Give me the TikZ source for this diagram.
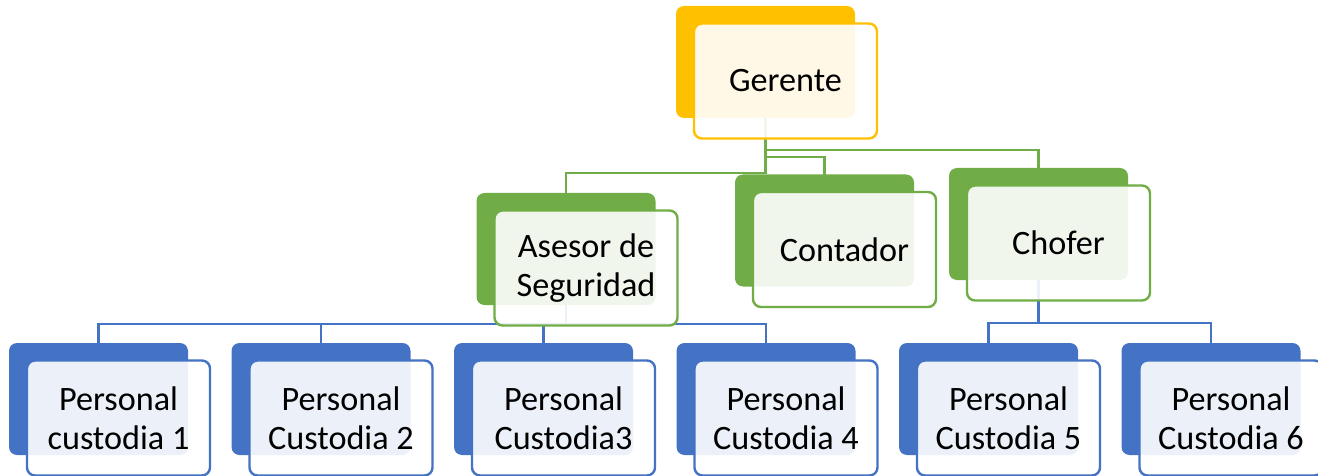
\documentclass[tikz,border=0pt]{standalone}
\usepackage{fontspec}
\setmainfont{Carlito}
\usetikzlibrary{positioning}
\pgfdeclarelayer{fondo}
\pgfsetlayers{fondo,main}
\definecolor{naranja}{HTML}{FFC000}
\definecolor{verde}{HTML}{70AD47}
\definecolor{azul}{HTML}{4472C4}
\tikzset{
  atras/.style={rounded corners=4pt, minimum width=89.5pt, minimum height=56pt, inner sep=0pt, fill=#1},
  frente/.style={rounded corners=4pt, minimum width=91.5pt, minimum height=57.5pt, inner sep=0pt,
    draw=#1, line width=1.2pt, fill=white, fill opacity=0.9, text opacity=1, align=center,
    font=\fontsize{17.1}{19.5}\selectfont},
  linea/.style={draw=#1, line width=1.2pt},
}

\begin{document}
\begin{tikzpicture}[x=0.5pt,y=-0.5pt]
        \useasboundingbox (0,0) rectangle (1318,476);

        % Gerente
        \node[atras=naranja] (ger) at (765.5,62) {};
        \node[frente=naranja] (ger-t) at ([shift={(20,19)}]ger.center) {Gerente};

        % Segundo nivel
        \node[atras=verde] (ase) at (566,249) {};
        \node[frente=verde] (ase-t) at ([shift={(20,19)}]ase.center) {Asesor de\\Seguridad};
        \node[atras=verde] (con) at (824.5,230.5) {};
        \node[frente=verde] (con-t) at ([shift={(20,19)}]con.center) {Contador};
        \node[atras=verde] (cho) at (1038.5,224) {};
        \node[frente=verde] (cho-t) at ([shift={(20,19)}]cho.center) {Chofer};

        % Personal de custodia
        \node[atras=azul] (p1) at (98.5,399) {};
        \node[frente=azul] (p1-t) at ([shift={(20,19)}]p1.center) {Personal\\custodia 1};
        \node[atras=azul] (p2) at (321,399) {};
        \node[frente=azul] (p2-t) at ([shift={(20,19)}]p2.center) {Personal\\Custodia 2};
        \node[atras=azul] (p3) at (543.5,399) {};
        \node[frente=azul] (p3-t) at ([shift={(20,19)}]p3.center) {Personal\\Custodia3};
        \node[atras=azul] (p4) at (766,399) {};
        \node[frente=azul] (p4-t) at ([shift={(20,19)}]p4.center) {Personal\\Custodia 4};
        \node[atras=azul] (p5) at (988.5,399) {};
        \node[frente=azul] (p5-t) at ([shift={(20,19)}]p5.center) {Personal\\Custodia 5};
        \node[atras=azul] (p6) at (1211,399) {};
        \node[frente=azul] (p6-t) at ([shift={(20,19)}]p6.center) {Personal\\Custodia 6};

        % Conectores (detras de las cajas)
        \begin{pgfonlayer}{fondo}
        \draw[linea=verde] (ger.center) -- ++(0,88) -| (cho.center);
        \draw[linea=verde] (ger.center) -- ++(0,95) -| (con.center);
        \draw[linea=verde] (ger.center) -- ++(0,111) -| (ase.center);
        \draw[linea=azul] (ase.center) -- ++(0,75) -| (p1.center);
        \draw[linea=azul] (ase.center) -- ++(0,75) -| (p2.center);
        \draw[linea=azul] (ase.center) -- ++(0,75) -| (p3.center);
        \draw[linea=azul] (ase.center) -- ++(0,75) -| (p4.center);
        \draw[linea=azul] (cho.center) -- ++(0,99) -| (p5.center);
        \draw[linea=azul] (cho.center) -- ++(0,99) -| (p6.center);
        \end{pgfonlayer}
    \end{tikzpicture}
\end{document}
